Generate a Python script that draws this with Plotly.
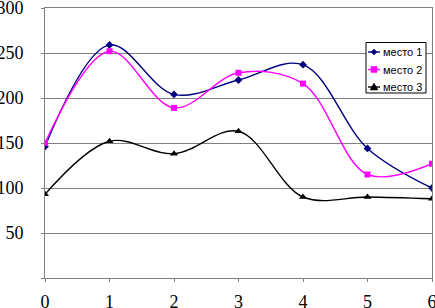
import plotly.graph_objects as go

x_vals = [0, 1, 2, 3, 4, 5, 6]
series_names = ["место 1", "место 2", "место 3"]
mesto1 = [146, 259, 204, 220, 237, 144, 100]
mesto2 = [150, 252, 189, 228, 216, 115, 127]
mesto3 = [93, 152, 138, 163, 90, 90, 88]
y_ticks = [0, 50, 100, 150, 200, 250, 300]
y_tick_labels = ["", "50", "100", "150", "200", "250", "300"]
x_ticks = [0, 1, 2, 3, 4, 5, 6]

colors = ["#000080", "#FF00FF", "#000000"]
symbols = ["diamond", "square", "triangle-up"]
sizes = [6, 6, 7]

W, H = 435, 308
ML, MR, MT, MB = 45, 3, 8, 30
PW, PH = W - ML - MR, H - MT - MB


def px(xp):
    return (xp - ML) / PW


def py(yp):
    return (H - MB - yp) / PH


fig = go.Figure()
for name, vals, c, s, sz in zip(series_names, [mesto1, mesto2, mesto3], colors, symbols, sizes):
    fig.add_trace(go.Scatter(
        x=x_vals, y=vals, name=name, mode="lines+markers",
        line=dict(color=c, width=1.4, shape="spline", smoothing=1.0),
        marker=dict(symbol=s, size=sz, color=c),
        showlegend=False,
    ))

# custom legend (box, line samples, marker glyphs, text)
shapes = [dict(type="rect", xref="paper", yref="paper",
               x0=px(366), x1=px(426), y0=py(93), y1=py(42.5),
               line=dict(color="#000000", width=1), fillcolor="white", layer="above")]
annotations = []
rows = [52, 69.5, 87]
for name, c, s, yy in zip(series_names, colors, symbols, rows):
    shapes.append(dict(type="line", xref="paper", yref="paper",
                       x0=px(368), x1=px(380), y0=py(yy), y1=py(yy),
                       line=dict(color=c, width=1.4), layer="above"))
    cx = 374
    if s == "diamond":
        path = f"M {px(cx)} {py(yy-3)} L {px(cx+3)} {py(yy)} L {px(cx)} {py(yy+3)} L {px(cx-3)} {py(yy)} Z"
    elif s == "square":
        path = f"M {px(cx-3)} {py(yy-3)} L {px(cx+3)} {py(yy-3)} L {px(cx+3)} {py(yy+3)} L {px(cx-3)} {py(yy+3)} Z"
    else:
        path = f"M {px(cx)} {py(yy-4)} L {px(cx+4)} {py(yy+3)} L {px(cx-4)} {py(yy+3)} Z"
    shapes.append(dict(type="path", xref="paper", yref="paper", path=path,
                       fillcolor=c, line=dict(color=c, width=0.5), layer="above"))
    annotations.append(dict(xref="paper", yref="paper", x=px(381), y=py(yy),
                            xanchor="left", yanchor="middle", showarrow=False,
                            text=name,
                            font=dict(family="Liberation Sans, Arial", size=11, color="#000000")))

fig.update_layout(
    width=W, height=H,
    margin=dict(l=ML, r=MR, t=MT, b=MB, autoexpand=False),
    paper_bgcolor="white", plot_bgcolor="white",
    showlegend=False,
    shapes=shapes,
    annotations=annotations,
    xaxis=dict(
        range=[0, 6], tickvals=x_ticks, ticktext=[str(v) for v in x_ticks],
        showgrid=False, zeroline=False, automargin=False,
        showline=True, linecolor="#808080", linewidth=1, mirror=True,
        ticks="outside", ticklen=3, tickcolor="#808080",
        ticklabelstandoff=4, ticklabeloverflow="allow",
        tickfont=dict(family="Liberation Serif, Times New Roman", size=18, color="#000000"),
    ),
    yaxis=dict(
        range=[0, 300], tickvals=y_ticks, ticktext=y_tick_labels,
        showgrid=True, gridcolor="#808080", gridwidth=1, zeroline=False, automargin=False,
        showline=True, linecolor="#808080", linewidth=1, mirror=True,
        ticks="outside", ticklen=3, tickcolor="#808080",
        ticklabelstandoff=14, ticklabeloverflow="allow",
        tickfont=dict(family="Liberation Serif, Times New Roman", size=18, color="#000000"),
    ),
)

fig.write_html(
    "out.html",
    config={"displayModeBar": False},
    post_script="document.body.style.margin='0';document.body.style.overflow='hidden';",
)
